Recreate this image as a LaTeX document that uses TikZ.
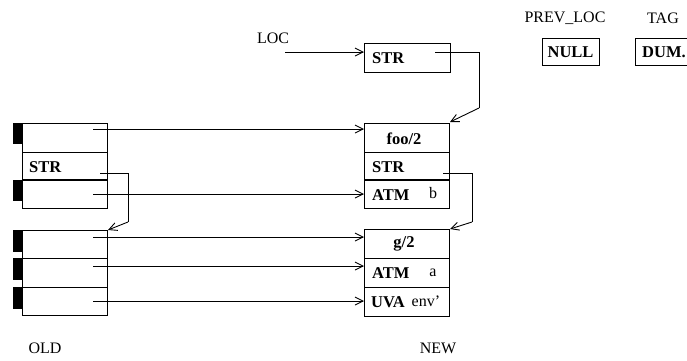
\documentclass[tikz,border=0pt]{standalone}
\usepackage{fontspec}
\setmainfont{Liberation Serif}
\usetikzlibrary{arrows.meta}
\begin{document}
\begin{tikzpicture}[x=1pt,y=-1pt,
  cell/.style={draw,line width=0.9pt},
  tab/.style={fill=black},
  lbl/.style={font=\fontsize{16}{18}\selectfont,inner sep=0pt},
  blbl/.style={font=\fontsize{16.5}{18}\selectfont\bfseries,inner sep=0pt},
  ptr/.style={line width=0.9pt,-{Straight Barb[length=8pt,width=8pt]}},
  lnk/.style={line width=0.9pt}]
\useasboundingbox (0,0) rectangle (687,360);
\begin{scope}
\clip (0,0) rectangle (687,360);
% top labels
\node[lbl] (loc) at (273,38) {LOC};
\node[lbl] (prevloc) at (565,18) {PREV\_LOC};
\node[lbl] (tag) at (663,18) {TAG};
\draw[cell] (542,38) rectangle (599,65);
\node[blbl] (null) at (570.5,52) {NULL};
\draw[cell] (635,38) rectangle (700,65);
\node[blbl,anchor=west] (dum) at (642,52) {DUM.};
% LOC cell
\draw[cell] (364,43) rectangle (450,72);
\node[blbl,anchor=west] (strtop) at (372,58) {STR};
\coordinate (locs) at (285,52);
\coordinate (loce) at (364,52);
\draw[ptr] (locs) -- (loce);
% old blocks
\foreach \ya/\yb/\nm in {123/152/o1,152/180/o2,180/208/o3,230/258/o4,258/287/o5,287/315/o6}{
  \draw[cell] (22,\ya) rectangle (107,\yb);
  \coordinate (\nm) at (64.5,{(\ya+\yb)/2});
}
\draw[line width=1.6pt] (22,180) -- (107,180);
\foreach \ya/\yb in {123/144,180/201,230/252,258/280,287/309}{
  \fill[tab] (13,\ya) rectangle (22,\yb);
}
\node[blbl,anchor=west] (ostr) at (29,167) {STR};
% new blocks
\foreach \ya/\yb/\nm in {123/152/n1,152/180/n2,180/208/n3,229/258/n4,258/287/n5,287/316/n6}{
  \draw[cell] (364,\ya) rectangle (449,\yb);
  \coordinate (\nm) at (406.5,{(\ya+\yb)/2});
}
\draw[line width=1.6pt] (364,180) -- (449,180);
\node[blbl] (foo) at (404,139) {foo/2};
\node[blbl,anchor=west] (nstr) at (372,167) {STR};
\node[blbl,anchor=west] (atmb) at (372,195) {ATM};
\node[lbl] (b) at (433,193) {b};
\node[blbl] (g) at (404,244) {g/2};
\node[blbl,anchor=west] (atma) at (372,273) {ATM};
\node[lbl] (a) at (433,273) {a};
\node[blbl,anchor=west] (uva) at (371,302) {UVA};
\node[lbl,anchor=west] (env) at (411.5,301) {env'};
% pointers old -> new
\foreach \y in {129,194,237,266,301}{
  \draw[ptr] (93,\y) -- (364,\y);
}
% STR links
\draw[lnk] (435,52) -- (479,52) -- (479,108);
\draw[ptr] (479,108) -- (450,122);
\draw[lnk] (100,173) -- (128,173) -- (128,222);
\draw[ptr] (128,222) -- (108,230);
\draw[lnk] (443,173) -- (472,173) -- (472,222);
\draw[ptr] (472,222) -- (450,229);
% bottom labels
\node[lbl] (old) at (45,348) {OLD};
\node[lbl] (new) at (438,348) {NEW};
\end{scope}
\end{tikzpicture}
\end{document}
